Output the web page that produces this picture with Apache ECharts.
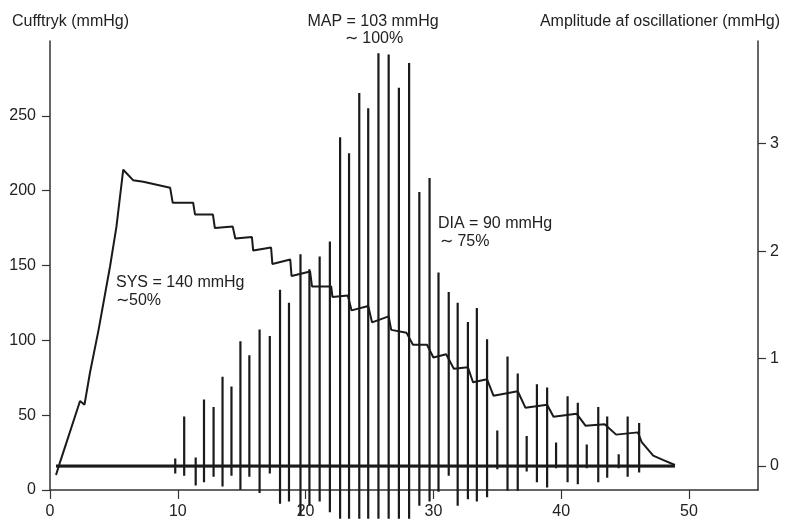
<!DOCTYPE html>
<html>
<head>
<meta charset="utf-8">
<script src="https://cdn.jsdelivr.net/npm/echarts@6/dist/echarts.min.js"></script>
<style>
  html, body { margin: 0; padding: 0; background: #fff; }
  #main { width: 788px; height: 520px; }
</style>
</head>
<body>
<div id="main"></div>
<script>
// cuff pressure trace (time s, mmHg)
var pressT = [0.47, 0.8, 1.3, 2.35, 2.7, 3.13, 3.8, 4.7, 5.2, 5.73, 6.5, 7.3, 9.4, 9.6, 11.2, 11.35, 12.75, 12.9, 14.3, 14.5, 15.8, 15.9, 17.3, 17.4, 18.8, 18.9, 20.35, 20.5, 22.0, 22.1, 23.3, 23.6, 24.9, 25.2, 26.5, 26.7, 27.9, 28.4, 29.5, 30.0, 31.0, 31.6, 32.7, 33.1, 34.2, 34.7, 36.6, 37.2, 38.9, 39.4, 41.2, 41.9, 43.4, 44.3, 46.0, 46.3, 47.2, 48.0, 48.9];
var pressP = [10, 19, 32, 59.5, 57, 78.5, 107, 149.5, 176, 214, 207, 206, 202, 192, 192, 184, 184, 175, 176, 168, 169, 160, 162, 151, 154, 143, 146, 136, 136, 129, 130, 120, 123, 112, 116, 107, 105, 97, 97, 88.5, 90.7, 81, 82, 72, 74, 63, 66, 55, 57, 49, 51, 43, 44, 37, 38.5, 32, 23, 20, 16.7];

// oscillation spikes (time s, top and bottom amplitude)
var spikeT = [9.8, 10.5, 11.4, 12.05, 12.8, 13.5, 14.2, 14.9, 15.6, 16.4, 17.2, 18.0, 18.7, 19.6, 20.3, 21.1, 21.9, 22.7, 23.4, 24.2, 24.9, 25.7, 26.5, 27.3, 28.1, 28.9, 29.7, 30.4, 31.2, 31.9, 32.7, 33.4, 34.2, 35.0, 35.8, 36.6, 37.3, 38.1, 38.9, 39.6, 40.5, 41.3, 42.0, 42.9, 43.6, 44.5, 45.2, 46.1];
var spikeHi = [0.07, 0.46, 0.08, 0.62, 0.55, 0.83, 0.74, 1.16, 1.03, 1.27, 1.21, 1.64, 1.52, 1.97, 1.83, 1.95, 2.09, 3.06, 2.91, 3.47, 3.33, 3.84, 3.83, 3.52, 3.75, 2.55, 2.68, 1.80, 1.62, 1.52, 1.34, 1.47, 1.18, 0.33, 1.02, 0.86, 0.28, 0.76, 0.73, 0.22, 0.65, 0.59, 0.20, 0.55, 0.46, 0.11, 0.46, 0.40];
var spikeLo = [-0.07, -0.09, -0.18, -0.15, -0.10, -0.19, -0.09, -0.22, -0.10, -0.25, -0.07, -0.35, -0.33, -0.46, -0.37, -0.33, -0.43, -0.49, -0.49, -0.49, -0.49, -0.49, -0.49, -0.49, -0.49, -0.37, -0.33, -0.24, -0.09, -0.37, -0.31, -0.33, -0.29, -0.03, -0.23, -0.23, -0.05, -0.15, -0.20, -0.02, -0.15, -0.17, -0.02, -0.15, -0.11, -0.02, -0.10, -0.06];
var baseStart = 0.47, baseEnd = 48.9;

var xTicks = [0, 10, 20, 30, 40, 50];
var leftTicks = [0, 50, 100, 150, 200, 250];
var rightTicks = [0, 1, 2, 3];

var pressData = pressT.map(function(t, i){ return [t, pressP[i]]; });
var oscData = [[baseStart, 0]];
for (var i = 0; i < spikeT.length; i++) {
	oscData.push([spikeT[i], 0], [spikeT[i], spikeHi[i]], [spikeT[i], spikeLo[i]], [spikeT[i], 0]);
}
oscData.push([baseEnd, 0]);

var font = 'Liberation Sans';
var ink = '#1a1a1a';
var axisCol = '#333';

function txt(x, y, s, align){
	return { type: 'text', x: x, y: y, style: { text: s, font: '16px "' + font + '"', fill: '#222', textAlign: align || 'left', textVerticalAlign: 'middle' } };
}

var chart = echarts.init(document.getElementById('main'));
chart.setOption({
	animation: false,
	backgroundColor: '#fff',
	grid: { left: 50, right: 30, top: 41, bottom: 29, containLabel: false },
	xAxis: {
		type: 'value', min: 0, max: 55.4,
		axisLine: { lineStyle: { color: axisCol, width: 1.5 } },
		axisTick: { length: 9, customValues: xTicks, lineStyle: { color: axisCol, width: 1.2 } },
		axisLabel: { customValues: xTicks, margin: 14, fontSize: 16, fontFamily: font, color: '#222' },
		splitLine: { show: false }
	},
	yAxis: [{
		type: 'value', min: 0, max: 300, position: 'left',
		axisLine: { show: true, lineStyle: { color: axisCol, width: 1.5 } },
		axisTick: { show: true, length: 8, customValues: leftTicks, lineStyle: { color: axisCol, width: 1.2 } },
		axisLabel: { customValues: leftTicks, margin: 14, fontSize: 16, fontFamily: font, color: '#222' },
		splitLine: { show: false }
	}, {
		type: 'value', min: -0.223, max: 3.955, position: 'right',
		axisLine: { show: true, lineStyle: { color: axisCol, width: 1.5 } },
		axisTick: { show: true, length: 8, customValues: rightTicks, lineStyle: { color: axisCol, width: 1.2 } },
		axisLabel: { customValues: rightTicks, margin: 12, fontSize: 16, fontFamily: font, color: '#222' },
		splitLine: { show: false }
	}],
	series: [{
		name: 'baseline', type: 'line', yAxisIndex: 1, symbol: 'none',
		data: [[baseStart, 0], [baseEnd, 0]],
		lineStyle: { color: ink, width: 3 }
	}, {
		name: 'oscillationer', type: 'line', yAxisIndex: 1, symbol: 'none', clip: false,
		data: oscData,
		lineStyle: { color: ink, width: 2.2 }
	}, {
		name: 'cufftryk', type: 'line', yAxisIndex: 0, symbol: 'none',
		data: pressData,
		lineStyle: { color: ink, width: 2 }
	}],
	graphic: [
		txt(12, 22, 'Cufftryk (mmHg)'),
		txt(373, 22, 'MAP = 103 mmHg', 'center'),
		txt(374, 39, '\u223c 100%', 'center'),
		txt(780, 22, 'Amplitude af oscillationer (mmHg)', 'right'),
		txt(116, 283, 'SYS = 140 mmHg'),
		txt(116, 301, '\u223c50%'),
		txt(438, 224, 'DIA = 90 mmHg'),
		txt(440, 242, '\u223c 75%')
	]
});
</script>
</body>
</html>
